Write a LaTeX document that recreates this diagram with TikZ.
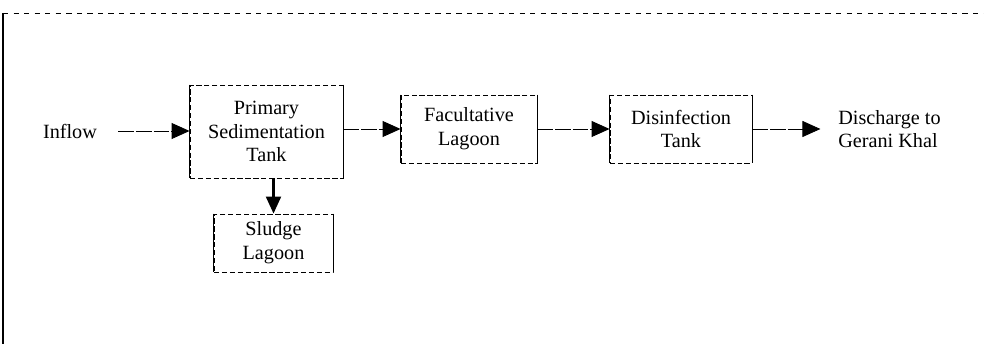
\documentclass[tikz,border=0pt]{standalone}
\usepackage{fontspec}
\setmainfont{Liberation Serif}
\usetikzlibrary{arrows.meta}

\begin{document}
\begin{tikzpicture}[
    unit/.style={draw, dash pattern=on 3pt off 1.5pt, line width=0.5pt, align=center,
      font=\fontsize{11.5}{13.5}\selectfont, inner sep=0pt},
    side/.style={line width=0.8pt},
    txt/.style={align=left, font=\fontsize{11.5}{13}\selectfont, inner sep=0pt},
    flow/.style={dash pattern=on 9pt off 1pt, line width=0.5pt,
      -{Triangle[length=3.6mm,width=3.2mm]}},
    drop/.style={line width=1.2pt, -{Triangle[length=3.4mm,width=3mm]}}
  ]

\useasboundingbox (0,0) rectangle (19.68,6.88);

\coordinate(corner) at (0.06,6.62);

\draw[dashed,line width=0.5pt] (corner) to (19.68,6.62);
\draw[line width=1.2pt] (corner) to (0.06,0);

\node[txt] (inflow) at (1.40,4.26) {Inflow};
\node[unit, minimum width=3.06cm, minimum height=1.86cm] (primary) at (5.33,4.25)
  {Primary\\Sedimentation\\Tank};
\node[unit, minimum width=2.72cm, minimum height=1.36cm] (facult) at (9.38,4.30)
  {Facultative\\Lagoon};
\node[unit, minimum width=2.84cm, minimum height=1.36cm] (disinf) at (13.62,4.30)
  {Disinfection\\Tank};
\node[unit, minimum width=2.38cm, minimum height=1.16cm] (sludge) at (5.47,2.02)
  {Sludge\\Lagoon};
\node[txt, anchor=west] (discharge) at (16.76,4.30) {Discharge to\\Gerani Khal};

% solid box sides
\foreach \n in {primary,facult,disinf,sludge}{
  \draw[side] (\n.north west) to (\n.south west);
  \draw[side] (\n.north east) to (\n.south east);
}

\draw[flow, shorten <=12pt] (inflow.east) to (inflow.east -| primary.west);
\draw[flow] (primary.east |- facult.west) to (facult.west);
\draw[flow] (facult.east) to (disinf.west);
\draw[flow, shorten >=10pt] (disinf.east) to (discharge.west);
\draw[drop] (sludge.north |- primary.south) to (sludge.north);

\end{tikzpicture}
\end{document}
